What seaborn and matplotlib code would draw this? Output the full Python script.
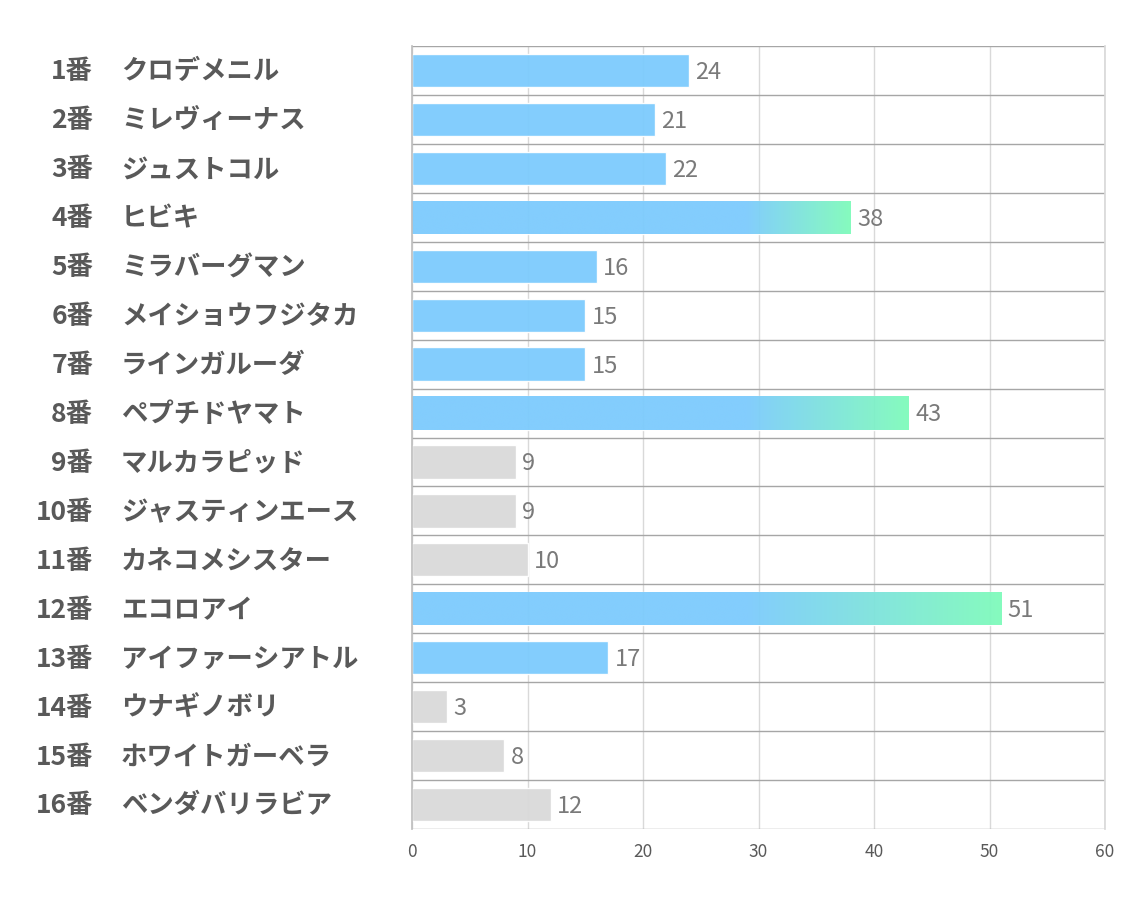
import numpy as np
import pandas as pd
import matplotlib
matplotlib.use("Agg")
import matplotlib.pyplot as plt
import seaborn as sns
from matplotlib.colors import LinearSegmentedColormap

numbers = ["1番", "2番", "3番", "4番", "5番", "6番", "7番", "8番",
           "9番", "10番", "11番", "12番", "13番", "14番", "15番", "16番"]
names = ["クロデメニル", "ミレヴィーナス", "ジュストコル", "ヒビキ", "ミラバーグマン",
         "メイショウフジタカ", "ラインガルーダ", "ペプチドヤマト", "マルカラピッド",
         "ジャスティンエース", "カネコメシスター", "エコロアイ", "アイファーシアトル",
         "ウナギノボリ", "ホワイトガーベラ", "ベンダバリラビア"]
values = [24, 21, 22, 38, 16, 15, 15, 43, 9, 9, 10, 51, 17, 3, 8, 12]
kind = ["blue", "blue", "blue", "grad", "blue", "blue", "blue", "grad",
        "gray", "gray", "gray", "grad", "blue", "gray", "gray", "gray"]

sns.set_theme(style="white")
plt.rcParams['font.family'] = ['Noto Sans CJK JP', 'DejaVu Sans']

BLUE = "#7ccbfd"
GREEN = "#7ffbbb"
GRAY = "#d9d9d9"
colmap = {"blue": BLUE, "grad": BLUE, "gray": GRAY}

df = pd.DataFrame({"label": numbers, "value": values, "kind": kind})

fig = plt.figure(figsize=(11.34, 9.07), dpi=100)
ax = fig.add_axes([412/1134, 1-829/907, 693/1134, 783/907])

sns.barplot(data=df, y="label", x="value", hue="label", orient="h",
            palette=[colmap[k] for k in kind], legend=False,
            width=0.68, ax=ax, zorder=2, alpha=0.95, saturation=1)

ax.set_xlim(0, 60)
ax.set_ylim(15.5, -0.5)
ax.set_xticks([0, 10, 20, 30, 40, 50, 60])
ax.set_xlabel("")
ax.set_ylabel("")
ax.set_yticklabels([])
ax.tick_params(axis="both", length=0)
ax.tick_params(axis="x", labelsize=12.5, colors="#595959", pad=10)

ax.grid(axis="x", color="#d9d9d9", lw=1, zorder=0)
ax.set_axisbelow(True)
for y in np.arange(-0.5, 16, 1):
    ax.axhline(y, color="#a6a6a6", lw=1, zorder=1)
for s in ["top", "bottom"]:
    ax.spines[s].set_visible(False)
ax.spines["left"].set_color("#bfbfbf")
ax.spines["right"].set_color("#d9d9d9")

# gradient bars
cmap = LinearSegmentedColormap.from_list("bg", [BLUE, GREEN])
for patch, v, k in zip(ax.patches, values, kind):
    if k != "grad":
        continue
    x0, y0 = patch.get_x(), patch.get_y()
    w, h = patch.get_width(), patch.get_height()
    xs = np.linspace(0, v, 400)
    start = 29.0
    t = np.clip((xs - start) / (v - start), 0, 1)
    img = ax.imshow(t[np.newaxis, :], cmap=cmap, aspect="auto", alpha=0.95,
                    extent=[x0, x0 + w, y0 + h, y0], zorder=2.5,
                    vmin=0, vmax=1, interpolation="bilinear")
    img.set_clip_path(patch)
    patch.set_facecolor("none")
ax.set_xlim(0, 60)
ax.set_ylim(15.5, -0.5)

# value labels
for i, v in enumerate(values):
    ax.text(v + 0.55, i + 0.04, str(v), va="center", ha="left", fontsize=17,
            color="#7a7a7a", zorder=4)

# category labels
trans = ax.get_yaxis_transform()
for i, (n, nm) in enumerate(zip(numbers, names)):
    ax.text(-0.460, i + 0.03, n, transform=trans, ha="right", va="center",
            fontsize=19, fontweight="bold", color="#595959")
    ax.text(-0.420, i + 0.03, nm, transform=trans, ha="left", va="center",
            fontsize=19, fontweight="bold", color="#595959")

fig.savefig("out.png", dpi=100)
